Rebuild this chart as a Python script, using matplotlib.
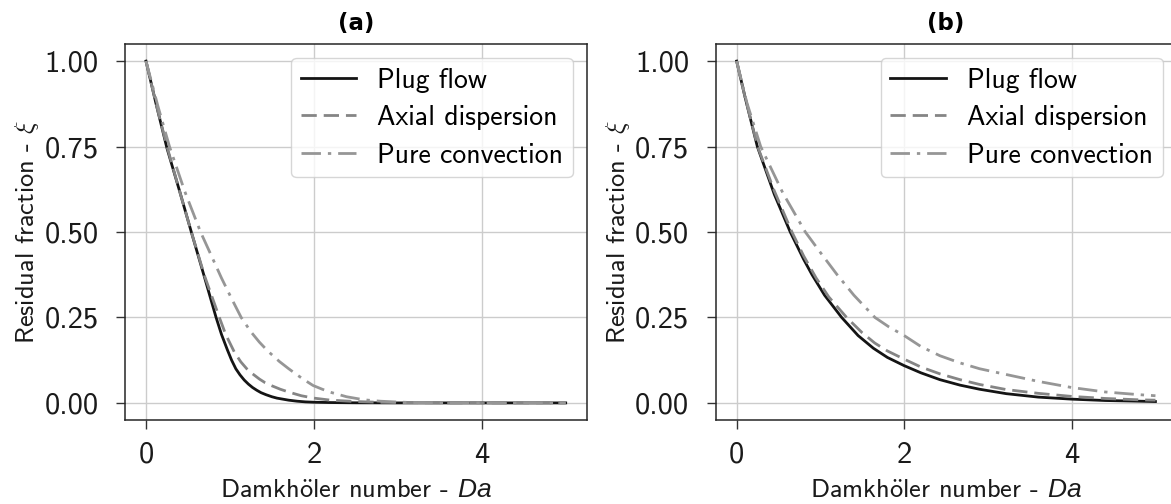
import matplotlib
matplotlib.use("Agg")
import matplotlib.pyplot as plt

# ---------------- data ----------------
# Panel (a)
da_a_plug = [0.0, 0.12, 0.25, 0.40, 0.54, 0.70, 0.835, 0.90, 0.97, 1.02, 1.07, 1.12, 1.17, 1.22, 1.27,
             1.32, 1.37, 1.43, 1.50, 1.56, 1.63, 1.70, 1.80, 1.90, 2.0, 2.2, 2.5, 3.0, 4.0, 5.0]
xi_a_plug = [1.0, 0.875, 0.745, 0.62, 0.50, 0.365, 0.25, 0.20, 0.155, 0.125, 0.10, 0.082, 0.067, 0.055, 0.045,
             0.037, 0.030, 0.024, 0.018, 0.014, 0.011, 0.008, 0.005, 0.003, 0.002, 0.001, 0.0003, 0.0, 0.0, 0.0]

da_a_axial = [0.0, 0.12, 0.25, 0.40, 0.54, 0.70, 0.874, 0.95, 1.054, 1.13, 1.20, 1.27, 1.35, 1.42, 1.50,
              1.60, 1.71, 1.85, 2.0, 2.2, 2.5, 2.75, 3.0, 3.5, 4.0, 5.0]
xi_a_axial = [1.0, 0.875, 0.75, 0.62, 0.50, 0.37, 0.25, 0.20, 0.148, 0.12, 0.10, 0.085, 0.07, 0.059, 0.05,
              0.04, 0.031, 0.021, 0.014, 0.008, 0.004, 0.002, 0.001, 0.0, 0.0, 0.0]

da_a_conv = [0.0, 0.14, 0.28, 0.46, 0.65, 0.78, 0.90, 1.02, 1.134, 1.25, 1.35, 1.45, 1.59, 1.70, 1.80,
             1.87, 1.99, 2.1, 2.2, 2.39, 2.6, 2.79, 3.0, 3.2, 3.6, 4.0, 5.0]
xi_a_conv = [1.0, 0.87, 0.75, 0.62, 0.50, 0.43, 0.365, 0.305, 0.25, 0.208, 0.178, 0.152, 0.121, 0.10, 0.082,
             0.07, 0.051, 0.04, 0.031, 0.018, 0.009, 0.005, 0.0025, 0.001, 0.0, 0.0, 0.0]

# Panel (b)
da_b_plug = [0.0, 0.1, 0.247, 0.45, 0.64, 0.8, 0.9, 1.05, 1.254, 1.45, 1.632, 1.8, 2.0, 2.2, 2.427,
             2.667, 2.9, 3.22, 3.6, 4.0, 4.4, 4.81, 5.0]
xi_b_plug = [1.0, 0.895, 0.75, 0.61, 0.50, 0.42, 0.375, 0.315, 0.25, 0.197, 0.16, 0.133, 0.109, 0.088, 0.068,
             0.052, 0.04, 0.027, 0.017, 0.011, 0.007, 0.005, 0.004]

da_b_axial = [0.0, 0.1, 0.25, 0.45, 0.66, 0.8, 0.95, 1.1, 1.313, 1.5, 1.65, 1.8, 2.0, 2.2, 2.427,
              2.667, 2.9, 3.22, 3.6, 4.0, 4.4, 4.81, 5.0]
xi_b_axial = [1.0, 0.895, 0.75, 0.62, 0.50, 0.43, 0.365, 0.31, 0.25, 0.205, 0.175, 0.152, 0.128, 0.105, 0.085,
              0.068, 0.054, 0.039, 0.028, 0.019, 0.013, 0.009, 0.008]

da_b_conv = [0.0, 0.12, 0.287, 0.55, 0.82, 1.0, 1.2, 1.4, 1.651, 1.82, 2.0, 2.2, 2.427, 2.667, 2.9,
             3.22, 3.6, 4.0, 4.4, 4.81, 5.0]
xi_b_conv = [1.0, 0.88, 0.75, 0.615, 0.50, 0.44, 0.375, 0.315, 0.25, 0.222, 0.197, 0.165, 0.138, 0.117, 0.10,
             0.083, 0.063, 0.045, 0.032, 0.024, 0.021]

series_labels = ["Plug flow", "Axial dispersion", "Pure convection"]
panel_titles = ["(a)", "(b)"]
x_ticks = [0, 2, 4]
y_ticks = [0.0, 0.25, 0.5, 0.75, 1.0]
y_ticklabels = ["0.00", "0.25", "0.50", "0.75", "1.00"]
xlabel_text = "Damkh$\\ddot{\\mathrm{o}}$ler number - $\\mathit{Da}$"
ylabel_text = "Residual fraction - $\\xi$"

# ---------------- style ----------------
plt.rcParams['font.family'] = ['cmss10', 'DejaVu Sans']
plt.rcParams['mathtext.fontset'] = 'custom'
plt.rcParams['mathtext.it'] = 'Liberation Sans:italic'
plt.rcParams['mathtext.rm'] = 'cmss10'
plt.rcParams['axes.unicode_minus'] = False

W, H = 1171, 504
fig = plt.figure(figsize=(W / 100, H / 100), dpi=100)

def px_axes(left, right, top, bottom):
    return fig.add_axes([left / W, 1 - bottom / H, (right - left) / W, (bottom - top) / H])

ax_a = px_axes(125, 586.7, 44, 420)
ax_b = px_axes(715.7, 1176.4, 44, 420)

styles = [
    dict(color="#141414", linestyle="-", linewidth=2.0),
    dict(color="#858585", linestyle=(0, (5.5, 2.5)), linewidth=2.0),
    dict(color="#969696", linestyle=(0, (7, 2.5, 1.2, 2.5)), linewidth=2.0),
]

panels = [
    (ax_a, [(da_a_plug, xi_a_plug), (da_a_axial, xi_a_axial), (da_a_conv, xi_a_conv)], panel_titles[0]),
    (ax_b, [(da_b_plug, xi_b_plug), (da_b_axial, xi_b_axial), (da_b_conv, xi_b_conv)], panel_titles[1]),
]

for ax, data, title in panels:
    ax.set_axisbelow(True)
    ax.grid(True, color="#cccccc", linewidth=1.0)
    for (x, y), st, lab in zip(data, styles, series_labels):
        ax.plot(x, y, label=lab, **st)
    ax.set_xlim(-0.25, 5.25)
    ax.set_ylim(-0.05, 1.05)
    ax.set_xticks(x_ticks)
    ax.set_yticks(y_ticks)
    ax.set_yticklabels(y_ticklabels)
    ax.tick_params(axis="both", direction="out", length=6.5, width=1.0,
                   color="#333333", labelsize=22, labelcolor="#1a1a1a")
    ax.tick_params(axis="y", pad=12.5)
    ax.tick_params(axis="x", pad=9)
    for sp in ax.spines.values():
        sp.set_color("#262626")
        sp.set_linewidth(1.1)
    ax.set_xlabel(xlabel_text, fontsize=19, color="#1a1a1a", labelpad=8)
    ax.yaxis.set_label_text(ylabel_text, fontsize=19, color="#1a1a1a", math_fontfamily="cm")
    ax.yaxis.labelpad = 2.5
    ax.set_title(title, fontsize=16.5, fontweight="bold", family="DejaVu Sans", pad=10)
    leg = ax.legend(loc="upper right", fontsize=20, handlelength=2.0, handletextpad=0.75,
                    borderpad=0.35, labelspacing=0.45, framealpha=0.8,
                    edgecolor="#cccccc", fancybox=True)
    leg.get_frame().set_linewidth(1.0)

fig.savefig("out.png", dpi=100)
